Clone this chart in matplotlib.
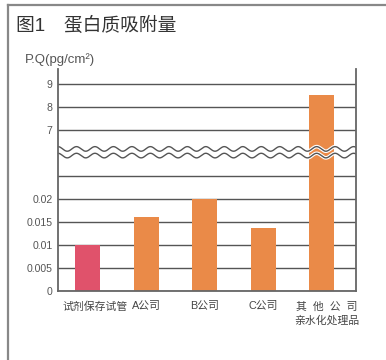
import numpy as np
import matplotlib
matplotlib.use('Agg')
import matplotlib.pyplot as plt
import matplotlib.patheffects as pe
from matplotlib.lines import Line2D
from matplotlib.transforms import ScaledTranslation

plt.rcParams['font.family'] = ['Liberation Sans', 'Noto Sans CJK SC', 'DejaVu Sans']

# --- 数据 ---
categories = ['试剂保存试管', 'A公司', 'B公司', 'C公司', '其  他  公  司\n亲水化处理品']
values = [0.010, 0.016, 0.020, 0.0137, 8.5]
bar_colors = ['#e0526b', '#ea8a48', '#ea8a48', '#ea8a48', '#ea8a48']
ytick_values = [0, 0.005, 0.01, 0.015, 0.02, 0.025, 7, 8, 9]
ytick_labels = ['0', '0.005', '0.01', '0.015', '0.02', '', '7', '8', '9']

# --- 断轴: 0~0.03 每格 0.005, 6 以上每格 1 ---
LOW_STEP = 0.005
BREAK_LOW = 0.03
BREAK_HIGH = 6.0
EPS = 1e-3


def fwd(v):
    v = np.asarray(v, dtype=float)
    low = v / LOW_STEP
    mid = 6 + (v - BREAK_LOW) / (BREAK_HIGH - BREAK_LOW) * EPS
    high = v + EPS
    return np.where(v <= BREAK_LOW, low, np.where(v < BREAK_HIGH, mid, high))


def inv(p):
    p = np.asarray(p, dtype=float)
    low = p * LOW_STEP
    mid = BREAK_LOW + (p - 6) / EPS * (BREAK_HIGH - BREAK_LOW)
    high = p - EPS
    return np.where(p <= 6, low, np.where(p < 6 + EPS, mid, high))


fig = plt.figure(figsize=(3.86, 3.6), dpi=100)
ax = fig.add_axes([58 / 386, 1 - 291 / 360, 298 / 386, 222 / 360])

ax.set_yscale('function', functions=(fwd, inv))

x = np.arange(len(categories))
ax.bar(x, values, width=0.43, color=bar_colors, linewidth=0, zorder=2)

ax.set_ylim(0, float(inv(9.65)))
ax.set_xlim(-0.51, 4.59)

ax.set_yticks(ytick_values)
ax.set_yticklabels(ytick_labels)
ax.minorticks_off()
ax.set_xticks(x)
ax.set_xticklabels(categories, linespacing=1.5)

ax.grid(axis='y', color='#555555', linewidth=1.0, zorder=1)
ax.set_axisbelow(True)
ax.tick_params(axis='y', length=0, pad=3.8, labelsize=7.6, labelcolor='#555555')
ax.tick_params(axis='x', length=0, pad=7.5, labelsize=7.8, labelcolor='#444444')

# 首尾标签略微右移
labels = ax.get_xticklabels()
for i, dx in ((0, 7), (len(labels) - 1, 5)):
    labels[i].set_transform(labels[i].get_transform() + ScaledTranslation(dx / 100, 0, fig.dpi_scale_trans))

ax.spines['top'].set_visible(False)
for s in ('left', 'right', 'bottom'):
    ax.spines[s].set_color('#666666')
    ax.spines[s].set_linewidth(1.3)
    ax.spines[s].set_zorder(5)

# 断轴波浪线
xs = np.linspace(0, 1, 800)
for yc in (0.640, 0.610):
    ax.plot(xs, yc + 0.0104 * np.cos(2 * np.pi * xs / 0.062), transform=ax.transAxes,
            color='#555555', linewidth=1.0, zorder=3,
            path_effects=[pe.Stroke(linewidth=2.6, foreground='white'), pe.Normal()])

# 外框线
fig.add_artist(Line2D([7.5 / 386, 1], [1 - 4.5 / 360] * 2, color='#888888', linewidth=1.6))
fig.add_artist(Line2D([7.5 / 386] * 2, [0, 1 - 4.5 / 360], color='#888888', linewidth=1.6))

fig.text(16 / 386, 1 - 25.5 / 360, '图1\u3000蛋白质吸附量', fontsize=13.5, color='#333333',
         ha='left', va='center')
fig.text(25 / 386, 1 - 60 / 360, 'P.Q(pg/cm²)', fontsize=9.5, color='#555555',
         ha='left', va='center')

fig.savefig('out.png', dpi=100)
